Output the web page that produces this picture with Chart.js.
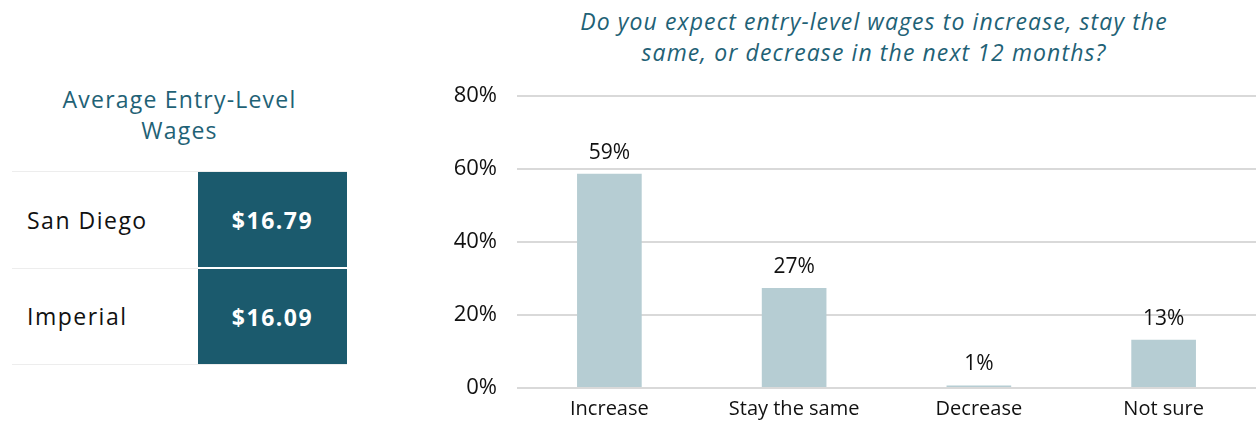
<!DOCTYPE html>
<html>
<head>
<meta charset="utf-8">
<script src="https://cdn.jsdelivr.net/npm/chart.js@4"></script>
<style>
  html,body{margin:0;padding:0;background:#fff;}
  body{width:1259px;height:427px;position:relative;overflow:hidden;font-family:"Open Sans",sans-serif;}
  #lt{position:absolute;left:12px;top:84px;width:335px;text-align:center;color:#1f6276;font-size:23px;line-height:31px;letter-spacing:1.2px;}
  table{position:absolute;left:12px;top:171px;width:335px;border-collapse:collapse;}
  td{height:95px;padding:0;font-size:23px;border-top:1px solid #ededed;border-bottom:1px solid #ededed;}
  td.l{padding-left:15px;color:#111;width:171px;letter-spacing:1.5px;}
  td.v{background:#1b5a6d;color:#fff;font-weight:bold;text-align:center;border-bottom:2px solid #fff;letter-spacing:1.5px;}
  tr:last-child td.v{border-bottom:1px solid #ededed;}
  #ct{position:absolute;left:500px;top:6px;width:748px;text-align:center;color:#1f6276;font-style:italic;font-size:23px;line-height:31px;letter-spacing:1.1px;}
  #wrap{position:absolute;left:420px;top:0;width:839px;height:427px;}
</style>
</head>
<body>
<div id="lt">Average Entry-Level<br>Wages</div>
<table id="tbl"></table>
<div id="ct">Do you expect entry-level wages to increase, stay the<br>same, or decrease in the next 12 months?</div>
<div id="wrap"><canvas id="c" width="839" height="427"></canvas></div>
<script>
const regions = ["San Diego", "Imperial"];
const wages = ["$16.79", "$16.09"];
const categories = ["Increase", "Stay the same", "Decrease", "Not sure"];
const values = [58.7, 27.4, 0.7, 13.2];
const valueLabels = ["59%", "27%", "1%", "13%"];
const yTicks = [0, 20, 40, 60, 80];

const tbl = document.getElementById('tbl');
regions.forEach((r, i) => {
  const tr = document.createElement('tr');
  tr.innerHTML = '<td class="l">' + r + '</td><td class="v">' + wages[i] + '</td>';
  tbl.appendChild(tr);
});

const FONT = '"Open Sans", sans-serif';
const labelPlugin = {
  id: 'valLabels',
  afterDatasetsDraw(chart) {
    const ctx = chart.ctx;
    const meta = chart.getDatasetMeta(0);
    ctx.save();
    ctx.font = '21px ' + FONT;
    ctx.fillStyle = '#111';
    ctx.textAlign = 'center';
    ctx.textBaseline = 'alphabetic';
    meta.data.forEach((bar, i) => {
      ctx.fillText(valueLabels[i], bar.x, bar.y - 15);
    });
    ctx.restore();
  }
};

new Chart(document.getElementById('c'), {
  type: 'bar',
  data: {
    labels: categories,
    datasets: [{
      data: values,
      backgroundColor: '#b6cdd3',
      categoryPercentage: 1,
      barPercentage: 0.35
    }]
  },
  options: {
    responsive: false,
    animation: false,
    layout: {padding: {top: 96, right: 3, left: 0, bottom: 0}},
    plugins: {legend: {display: false}, tooltip: {enabled: false}},
    scales: {
      x: {
        grid: {display: false, drawTicks: false},
        border: {display: false},
        ticks: {color: '#111', font: {size: 20, family: FONT}, padding: 9},
        afterFit(s) { s.height = 39; }
      },
      y: {
        min: 0, max: 80,
        afterBuildTicks(s) { s.ticks = yTicks.map(v => ({value: v})); },
        grid: {color: '#d9d9d9', lineWidth: 2, drawTicks: false},
        border: {display: false},
        ticks: {color: '#111', font: {size: 22, family: FONT}, padding: 20,
                callback: v => v + '%'},
        afterFit(s) { s.width = 97; }
      }
    }
  },
  plugins: [labelPlugin]
});
</script>
</body>
</html>
